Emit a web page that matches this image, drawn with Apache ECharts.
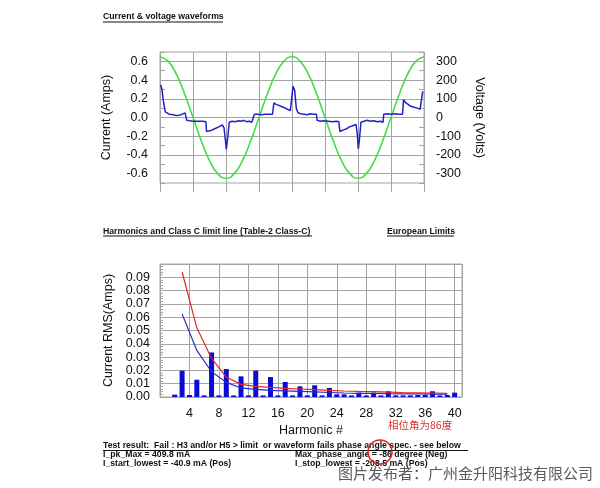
<!DOCTYPE html>
<html>
<head>
<meta charset="utf-8">
<script src="https://cdn.jsdelivr.net/npm/echarts@6/dist/echarts.min.js"></script>
<style>html,body{margin:0;padding:0;background:#fff;}#c{width:600px;height:488px;}</style>
</head>
<body>
<div id="c"></div>
<script>
// ---------- data ----------
// Top chart: voltage (V) vs time (ms)
const voltageTimeMs = [0,1.25,2.5,3.75,5,6.25,7.5,8.75,10,11.25,12.5,13.75,15,16.25,17.5,18.75,20,21.25,22.5,23.75,25,26.25,27.5,28.75,30,31.25,32.5,33.75,35,36.25,37.5,38.75,40];
const voltageVolts  = [325,300,230,124,0,-124,-230,-300,-325,-300,-230,-124,0,124,230,300,325,300,230,124,0,-124,-230,-300,-325,-300,-230,-124,0,124,230,300,325];
// Top chart: current (A) samples [ms, A]
const currentSamples = [
 [0.1,0.35],[0.3,0.30],[0.5,0.18],[0.8,0.06],[1.0,0.04],[1.4,0.035],[1.7,0.04],[2.0,0.03],[2.3,0.035],[2.6,0.02],[2.9,0.035],[3.2,0.03],[3.5,0.045],[3.8,0.05],[3.95,0.055],
 [4.05,-0.03],[4.5,-0.035],[5.0,-0.04],[5.5,-0.04],[6.0,-0.04],[6.5,-0.04],[6.95,-0.045],
 [7.05,-0.15],[7.35,-0.17],[7.7,-0.14],[8.0,-0.13],[8.3,-0.12],[8.6,-0.11],[8.9,-0.10],[9.2,-0.09],[9.45,-0.08],[9.7,-0.11],[9.9,-0.24],[10.05,-0.34],[10.25,-0.22],[10.5,-0.05],
 [10.9,-0.04],[11.4,-0.045],[11.9,-0.035],[12.3,-0.04],[12.7,-0.03],[13.1,-0.045],[13.5,-0.04],[13.9,-0.05],[14.15,-0.06],
 [14.3,0.035],[14.8,0.035],[15.4,0.03],[16.0,0.035],[16.6,0.035],[17.05,0.035],
 [17.25,0.155],[17.6,0.14],[18.0,0.13],[18.5,0.115],[19.0,0.10],[19.4,0.085],[19.75,0.075],[19.95,0.2],[20.15,0.335],[20.4,0.29],[20.65,0.1],
 [20.9,0.05],[21.3,0.04],[21.8,0.035],[22.3,0.03],[22.8,0.04],[23.3,0.035],[23.7,0.035],
 [23.8,-0.03],[24.3,-0.04],[24.9,-0.035],[25.5,-0.04],[26.1,-0.045],[26.7,-0.04],[27.1,-0.045],
 [27.25,-0.15],[27.5,-0.16],[27.9,-0.13],[28.3,-0.12],[28.7,-0.10],[29.1,-0.09],[29.4,-0.08],[29.7,-0.075],[29.9,-0.18],[30.05,-0.335],[30.2,-0.25],[30.45,-0.05],
 [30.9,-0.04],[31.4,-0.03],[31.9,-0.04],[32.4,-0.035],[32.9,-0.045],[33.4,-0.04],[33.8,-0.05],
 [33.9,0.035],[34.4,0.04],[35.0,0.035],[35.6,0.04],[36.2,0.035],[36.75,0.035],
 [36.9,0.19],[37.2,0.16],[37.6,0.14],[38.0,0.12],[38.5,0.11],[39.0,0.10],[39.4,0.087],[39.55,0.1],[39.8,0.28]
];

// Bottom chart: harmonics
const harmonicOrders = [2,3,4,5,6,7,8,9,10,11,12,13,14,15,16,17,18,19,20,21,22,23,24,25,26,27,28,29,30,31,32,33,34,35,36,37,38,39,40];
const harmonicAmps   = [0.0018,0.0198,0.0015,0.013,0.0012,0.0335,0.0012,0.021,0.0012,0.0155,0.0012,0.0198,0.0012,0.015,0.0012,0.0113,0.0012,0.008,0.0012,0.0088,0.0012,0.0068,0.002,0.002,0.0012,0.0033,0.0012,0.0033,0.0012,0.0043,0.0012,0.0012,0.0012,0.0015,0.0015,0.0043,0.0012,0.0015,0.0033];
const limitOrders    = [3,5,7,9,11,13,15,17,19,21,23,25,27,29,31,33,35,37,39];
const classCLimit    = [0.094,0.052,0.029,0.015,0.0095,0.008,0.0072,0.0065,0.006,0.0055,0.005,0.0045,0.0042,0.004,0.0037,0.0034,0.0032,0.003,0.0028];
const blueLimit      = [0.0625,0.035,0.019,0.011,0.0068,0.0058,0.005,0.0046,0.0042,0.0038,0.0034,0.003,0.0028,0.0027,0.0025,0.0024,0.0023,0.0022,0.0021];

// ---------- chart ----------
const GRID = '#a4a4a4';
const FONT = "'Liberation Sans', Arial, sans-serif";
const LBL = 12.5;
const zip = (a, b) => a.map((v, i) => [v, b[i]]);
const chart = echarts.init(document.getElementById('c'));
const bold = "bold 8.7px " + FONT;

const option = {
  animation: false,
  backgroundColor: '#ffffff',
  textStyle: {fontFamily: FONT},
  grid: [
    {left: 160, top: 52, width: 264, height: 131, show: true, borderColor: GRID, borderWidth: 1},
    {left: 160, top: 264, width: 302, height: 133, show: true, borderColor: GRID, borderWidth: 1}
  ],
  xAxis: [
    {gridIndex: 0, type: 'value', min: 0, max: 40, interval: 5,
     axisLine: {show: false, onZero: false}, axisLabel: {show: false},
     axisTick: {show: true, length: 9, lineStyle: {color: GRID}},
     splitLine: {show: true, lineStyle: {color: GRID, width: 1}}},
    {gridIndex: 1, type: 'value', min: 0, max: 41, interval: 4,
     axisLine: {show: false, onZero: false}, axisTick: {show: false},
     axisLabel: {formatter: v => (v > 0 && v % 4 === 0) ? String(v) : '', fontSize: LBL, color: '#111', margin: 10},
     splitLine: {show: true, lineStyle: {color: GRID, width: 1}},
     name: 'Harmonic #', nameLocation: 'middle', nameGap: 27, nameTextStyle: {fontSize: LBL, color: '#111'}}
  ],
  yAxis: [
    {gridIndex: 0, type: 'value', min: -0.7, max: 0.7, interval: 0.1, position: 'left',
     axisLine: {show: false},
     axisTick: {show: true, inside: true, length: 5, lineStyle: {color: GRID}},
     splitLine: {show: true, lineStyle: {color: ['rgba(0,0,0,0)', GRID], width: 1}},
     axisLabel: {formatter: v => { const k = Math.round(v * 10); return (k % 2 === 0 && Math.abs(k) <= 6) ? (k / 10).toFixed(1) : ''; }, fontSize: LBL, color: '#111', margin: 12},
     name: 'Current (Amps)', nameLocation: 'middle', nameGap: 47, nameRotate: 90, nameTextStyle: {fontSize: LBL, color: '#111'}},
    {gridIndex: 0, type: 'value', min: -350, max: 350, interval: 50, position: 'right',
     axisLine: {show: false},
     axisTick: {show: true, inside: true, length: 5, lineStyle: {color: GRID}},
     splitLine: {show: false},
     axisLabel: {formatter: v => (Math.round(v) % 100 === 0 && Math.abs(v) <= 300) ? String(Math.round(v)) : '', fontSize: LBL, color: '#111', margin: 12},
     name: 'Voltage (Volts)', nameLocation: 'middle', nameGap: 49, nameRotate: -90, nameTextStyle: {fontSize: LBL, color: '#111'}},
    {gridIndex: 1, type: 'value', min: 0, max: 0.1, interval: 0.01,
     axisLine: {show: false},
     axisTick: {show: true, inside: true, length: 4, lineStyle: {color: GRID}},
     minorTick: {show: true, splitNumber: 5, length: 3, lineStyle: {color: GRID}},
     splitLine: {show: true, lineStyle: {color: GRID, width: 1}},
     axisLabel: {formatter: v => v < 0.095 ? v.toFixed(2) : '', fontSize: LBL, color: '#111', margin: 10},
     name: 'Current RMS(Amps)', nameLocation: 'middle', nameGap: 45, nameRotate: 90, nameTextStyle: {fontSize: LBL, color: '#111'}}
  ],
  series: [
    {type: 'line', xAxisIndex: 0, yAxisIndex: 1, data: zip(voltageTimeMs, voltageVolts), smooth: true,
     showSymbol: false, lineStyle: {color: '#44dd44', width: 1.6}},
    {type: 'line', xAxisIndex: 0, yAxisIndex: 0, data: currentSamples, showSymbol: false,
     lineStyle: {color: '#2222c4', width: 1.5}},
    {type: 'bar', xAxisIndex: 1, yAxisIndex: 2, data: zip(harmonicOrders, harmonicAmps), barWidth: 5,
     itemStyle: {color: '#0b0bd6'}},
    {type: 'line', xAxisIndex: 1, yAxisIndex: 2, data: zip(limitOrders, blueLimit), showSymbol: false,
     lineStyle: {color: '#2a2ac8', width: 1.2}},
    {type: 'line', xAxisIndex: 1, yAxisIndex: 2, data: zip(limitOrders, classCLimit), showSymbol: false,
     lineStyle: {color: '#e02626', width: 1.2}}
  ],
  graphic: [
    {type: 'text', style: {text: 'Current & voltage waveforms', x: 103, y: 17, font: bold, fill: '#111', align: 'left', verticalAlign: 'middle'}},
    {type: 'line', shape: {x1: 103, y1: 22, x2: 223, y2: 22}, style: {stroke: '#111', lineWidth: 1}},
    {type: 'text', style: {text: 'Harmonics and Class C limit line (Table-2 Class-C)', x: 103, y: 231.5, font: bold, fill: '#111', align: 'left', verticalAlign: 'middle'}},
    {type: 'line', shape: {x1: 103, y1: 236, x2: 312, y2: 236}, style: {stroke: '#111', lineWidth: 1}},
    {type: 'text', style: {text: 'European Limits', x: 387, y: 231.5, font: bold, fill: '#111', align: 'left', verticalAlign: 'middle'}},
    {type: 'line', shape: {x1: 387, y1: 236, x2: 454, y2: 236}, style: {stroke: '#111', lineWidth: 1}},
    {type: 'text', style: {text: 'Test result:  Fail : H3 and/or H5 > limit  or waveform fails phase angle spec. - see below', x: 103, y: 446, font: bold, fill: '#111', align: 'left', verticalAlign: 'middle'}},
    {type: 'line', shape: {x1: 103, y1: 450.5, x2: 468, y2: 450.5}, style: {stroke: '#111', lineWidth: 1}},
    {type: 'text', style: {text: 'I_pk_Max = 409.8 mA', x: 103, y: 455, font: bold, fill: '#111', align: 'left', verticalAlign: 'middle'}},
    {type: 'text', style: {text: 'I_start_lowest = -40.9 mA (Pos)', x: 103, y: 463.5, font: bold, fill: '#111', align: 'left', verticalAlign: 'middle'}},
    {type: 'text', style: {text: 'Max_phase_angle = -86 degree (Neg)', x: 295, y: 455, font: bold, fill: '#111', align: 'left', verticalAlign: 'middle'}},
    {type: 'text', style: {text: 'I_stop_lowest = -208.5 mA (Pos)', x: 295, y: 463.5, font: bold, fill: '#111', align: 'left', verticalAlign: 'middle'}},
    {type: 'circle', shape: {cx: 380, cy: 452, r: 12}, style: {fill: 'none', stroke: '#e02020', lineWidth: 1.5}},
    {type: 'text', style: {text: '相位角为86度', x: 388, y: 425, font: "10.5px 'Noto Sans CJK SC', sans-serif", fill: '#e03030', align: 'left', verticalAlign: 'middle'}},
    {type: 'text', style: {text: '图片发布者：广州金升阳科技有限公司', x: 338, y: 473, font: "15px 'Noto Sans CJK SC', sans-serif", fill: '#5a5a5a', align: 'left', verticalAlign: 'middle'}}
  ]
};
chart.setOption(option);
</script>
</body>
</html>
